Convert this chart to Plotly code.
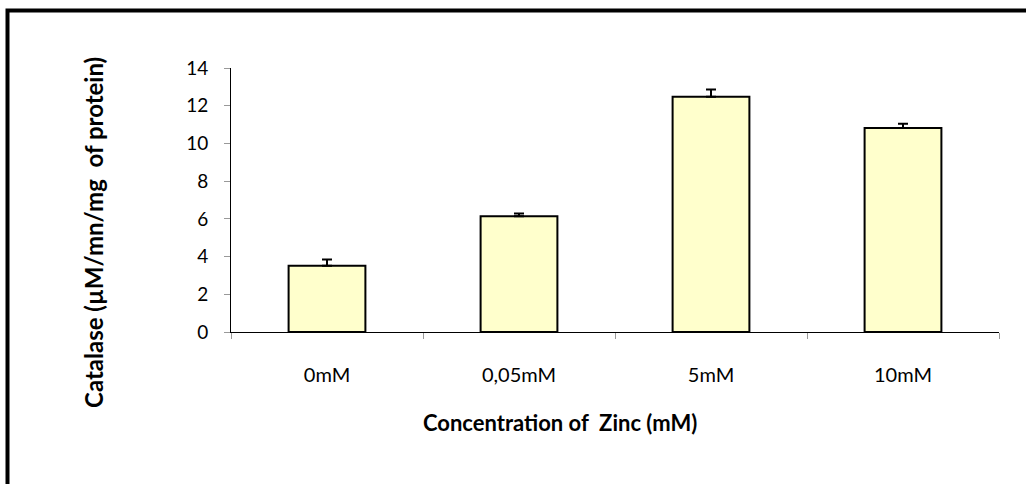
import plotly.graph_objects as go

categories = ["0mM", "0,05mM", "5mM", "10mM"]
catalase = [3.51, 6.14, 12.47, 10.82]
errors = [0.33, 0.14, 0.39, 0.23]
y_ticks = [0, 2, 4, 6, 8, 10, 12, 14]

W, H = 1026, 484
L, R, T, B = 231, 27, 68, 152
pw, ph = W - L - R, H - T - B

def px(x):
    return (x - L) / pw

def py(y):
    return (H - B - y) / ph

fig = go.Figure()
fig.add_trace(go.Bar(
    x=categories, y=catalase,
    marker=dict(color="#FFFFCC", line=dict(color="black", width=2)),
    error_y=dict(type="data", symmetric=False, array=errors, arrayminus=[0]*len(errors),
                 color="black", thickness=2, width=5),
    width=0.4,
))

font = "Lato, 'Open Sans', sans-serif"
fig.update_layout(
    width=W, height=H,
    margin=dict(l=L, r=R, t=T, b=B),
    plot_bgcolor="white", paper_bgcolor="white",
    showlegend=False,
    font=dict(family=font, size=20, color="black"),
    bargap=0.6,
    xaxis=dict(
        showline=True, linecolor="black", linewidth=1,
        ticks="outside", tickson="boundaries", ticklen=6, tickcolor="#999999",
        ticklabelstandoff=25, tickfont=dict(size=20),
        showgrid=False,
    ),
    yaxis=dict(
        range=[0, 14], tickvals=y_ticks,
        showline=True, linecolor="black", linewidth=1,
        ticks="outside", ticklen=6, tickcolor="#999999",
        ticklabelstandoff=12, tickfont=dict(size=19),
        showgrid=False, zeroline=False,
    ),
    shapes=[dict(type="rect", xref="paper", yref="paper",
                 x0=px(7.5), x1=px(1040), y0=py(10.5), y1=py(500),
                 line=dict(color="black", width=4), fillcolor="rgba(0,0,0,0)", layer="above")],
    annotations=[
        dict(text="<b>Catalase (µM/mn/mg  of protein)</b>", textangle=-90,
             xref="paper", yref="paper", x=px(93), y=py(233),
             xanchor="center", yanchor="middle", showarrow=False,
             font=dict(size=24)),
        dict(text="<b>Concentration of  Zinc (mM)</b>",
             xref="paper", yref="paper", x=px(560), y=py(422),
             xanchor="center", yanchor="middle", showarrow=False,
             font=dict(size=22)),
    ],
)
fig.write_html("out.html", config={"displayModeBar": False},
               post_script="document.body.style.margin='0';")
